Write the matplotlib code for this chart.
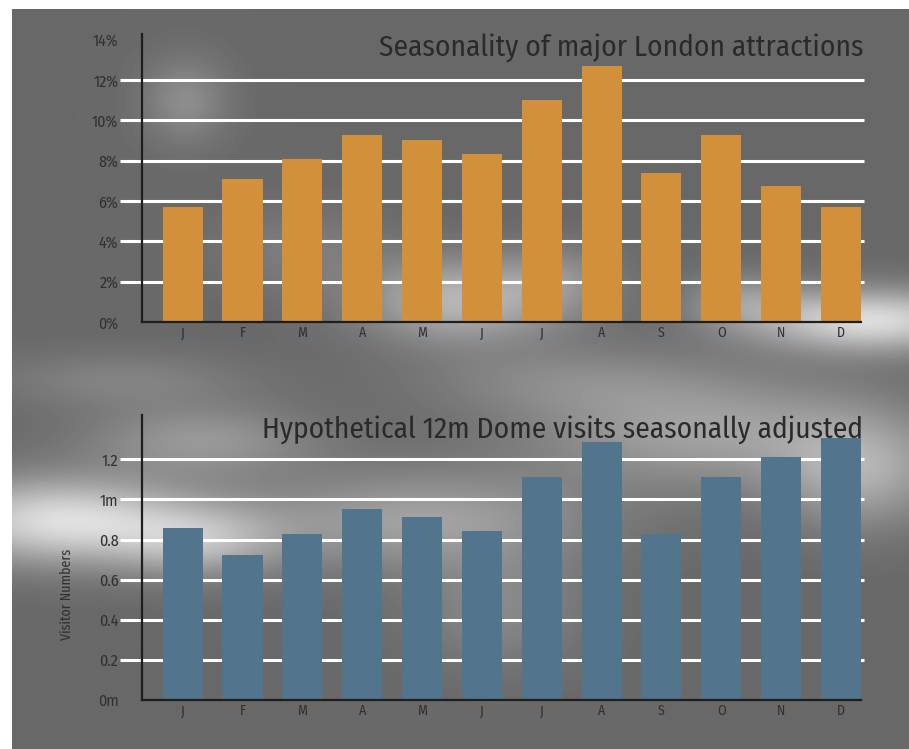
import numpy as np
import matplotlib
matplotlib.use("Agg")
import matplotlib.pyplot as plt

plt.rcParams['font.family'] = ['Fira Sans Condensed', 'DejaVu Sans']

# data
months = ["J", "F", "M", "A", "M", "J", "J", "A", "S", "O", "N", "D"]
seasonality = [5.7, 7.1, 8.1, 9.25, 9.0, 8.35, 11.0, 12.7, 7.4, 9.25, 6.75, 5.7]
dome_visits = [0.857, 0.724, 0.83, 0.95, 0.913, 0.843, 1.114, 1.288, 0.83, 1.114, 1.21, 1.305]

top_ticks = [0, 2, 4, 6, 8, 10, 12, 14]
top_ticklabels = ["0%", "2%", "4%", "6%", "8%", "10%", "12%", "14%"]
top_grid = [2, 4, 6, 8, 10, 12]
bottom_ticks = [0, 0.2, 0.4, 0.6, 0.8, 1.0, 1.2]
bottom_ticklabels = ["0m", "0.2", "0.4", "0.6", "0.8", "1m", "1.2"]
bottom_grid = [0.2, 0.4, 0.6, 0.8, 1.0, 1.2]

W, H = 909, 749
fig = plt.figure(figsize=(W / 100, H / 100), dpi=100)
fig.patch.set_facecolor("white")

# cloudy grey backdrop (smooth blobs, purely decorative)
bg_ax = fig.add_axes([12 / W, 0, 1 - 12 / W, (H - 9) / H])
bg_ax.set_axis_off()
yy, xx = np.mgrid[9:H, 12:W]
bg = np.full(xx.shape, 0.41)
blobs = [  # x, y, sx, sy, amplitude
    (185, 100, 30, 30, 0.14),
    (300, 250, 60, 30, 0.08),
    (460, 300, 70, 30, 0.30),
    (560, 280, 40, 25, 0.12),
    (870, 320, 80, 22, 0.45),
    (740, 300, 40, 20, 0.15),
    (200, 440, 80, 25, 0.18),
    (60, 520, 90, 30, 0.45),
    (200, 540, 60, 25, 0.25),
    (420, 520, 120, 35, 0.22),
    (700, 430, 120, 40, 0.22),
    (860, 470, 60, 40, 0.25),
    (500, 610, 60, 40, 0.12),
    (560, 380, 100, 25, 0.10),
    (120, 380, 90, 20, 0.10),
]
for bx, by, sx, sy, a in blobs:
    bg += a * np.exp(-(((xx - bx) / sx) ** 2 + ((yy - by) / sy) ** 2) / 2)
bg = np.clip(bg, 0, 0.95)
bg_ax.imshow(bg, cmap="gray", vmin=0, vmax=1, aspect="auto", interpolation="bilinear")

text_col = "#303030"
pos = np.arange(len(months))
xlim = (-0.68, 11.335)
grid_x = (-1.05, 11.39)


def panel(rect, values, color, ticks, ticklabels, grid, ylim, title):
    ax = fig.add_axes(rect)
    ax.patch.set_alpha(0)
    ax.bar(pos, values, width=0.67, color=color, zorder=3)
    ax.hlines(grid, *grid_x, colors="white", lw=2.2, zorder=2, clip_on=False)
    ax.set_xlim(*xlim)
    ax.set_ylim(*ylim)
    ax.set_xticks(pos)
    ax.set_xticklabels(months, fontsize=10, color=text_col)
    ax.set_yticks(ticks)
    ax.set_yticklabels(ticklabels, fontsize=11.5, color=text_col)
    ax.tick_params(axis="x", length=0, pad=3)
    ax.tick_params(axis="y", length=0, pad=17)
    for s in ["top", "right"]:
        ax.spines[s].set_visible(False)
    for s in ["left", "bottom"]:
        ax.spines[s].set_color("#1e1e1e")
        ax.spines[s].set_linewidth(1.6)
        ax.spines[s].set_zorder(4)
    ax.text(1.003, 1.0, title, transform=ax.transAxes, ha="right", va="top",
            fontsize=21.2, color="#2a2a2a")
    return ax


top = panel([142 / W, 427 / H, 719 / W, 288.4 / H], seasonality, "#D3903A",
            top_ticks, top_ticklabels, top_grid, (0, 14.3),
            "Seasonality of major London attractions")

bottom = panel([142 / W, 49 / H, 719 / W, 285 / H], dome_visits, "#52748D",
               bottom_ticks, bottom_ticklabels, bottom_grid, (0, 1.421),
               "Hypothetical 12m Dome visits seasonally adjusted")
bottom.set_ylabel("Visitor Numbers", fontsize=10, color=text_col)
bottom.yaxis.set_label_coords(-0.094, 0.372)

fig.savefig("out.png", dpi=100)
